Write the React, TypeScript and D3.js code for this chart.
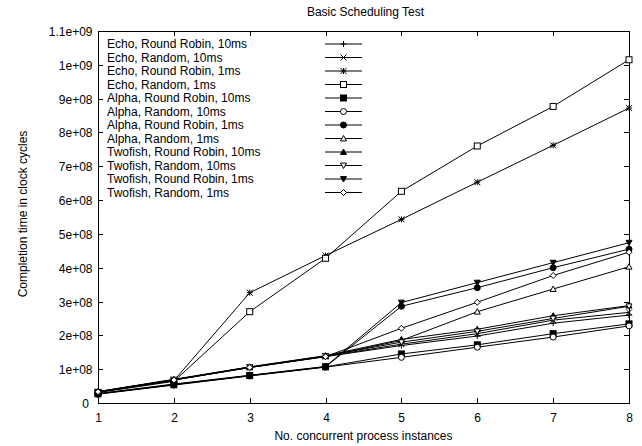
import React, { useEffect, useRef } from 'react';
import * as d3 from 'd3';

const instances = [1, 2, 3, 4, 5, 6, 7, 8];

const seriesNames = [
  'Echo, Round Robin, 10ms',
  'Echo, Random, 10ms',
  'Echo, Round Robin, 1ms',
  'Echo, Random, 1ms',
  'Alpha, Round Robin, 10ms',
  'Alpha, Random, 10ms',
  'Alpha, Round Robin, 1ms',
  'Alpha, Random, 1ms',
  'Twofish, Round Robin, 10ms',
  'Twofish, Random, 10ms',
  'Twofish, Round Robin, 1ms',
  'Twofish, Random, 1ms',
];

const echoRR10 = [3.2e7, 6.8e7, 1.05e8, 1.37e8, 1.70e8, 1.98e8, 2.36e8, 2.60e8];
const echoRand10 = [3.3e7, 6.9e7, 1.06e8, 1.38e8, 1.74e8, 2.05e8, 2.45e8, 2.68e8];
const echoRR1 = [3.2e7, 6.6e7, 3.26e8, 4.36e8, 5.43e8, 6.53e8, 7.62e8, 8.72e8];
const echoRand1 = [3.1e7, 6.4e7, 2.70e8, 4.28e8, 6.26e8, 7.60e8, 8.77e8, 1.015e9];
const alphaRR10 = [2.7e7, 5.4e7, 8.1e7, 1.07e8, 1.45e8, 1.72e8, 2.05e8, 2.34e8];
const alphaRand10 = [2.6e7, 5.3e7, 8.0e7, 1.06e8, 1.35e8, 1.65e8, 1.95e8, 2.28e8];
const alphaRR1 = [2.7e7, 5.5e7, 8.1e7, 1.07e8, 2.86e8, 3.41e8, 4.00e8, 4.55e8];
const alphaRand1 = [3.3e7, 6.8e7, 1.05e8, 1.38e8, 1.85e8, 2.70e8, 3.37e8, 4.03e8];
const twofishRR10 = [3.4e7, 7.0e7, 1.07e8, 1.40e8, 1.88e8, 2.18e8, 2.58e8, 2.88e8];
const twofishRand10 = [3.3e7, 6.9e7, 1.06e8, 1.39e8, 1.80e8, 2.12e8, 2.50e8, 2.86e8];
const twofishRR1 = [2.8e7, 5.6e7, 8.2e7, 1.08e8, 2.97e8, 3.56e8, 4.15e8, 4.74e8];
const twofishRand1 = [3.3e7, 6.8e7, 1.05e8, 1.37e8, 2.21e8, 2.98e8, 3.77e8, 4.46e8];

const seriesValues = [
  echoRR10, echoRand10, echoRR1, echoRand1,
  alphaRR10, alphaRand10, alphaRR1, alphaRand1,
  twofishRR10, twofishRand10, twofishRR1, twofishRand1,
];

const yTicks = [0, 1e8, 2e8, 3e8, 4e8, 5e8, 6e8, 7e8, 8e8, 9e8, 1e9, 1.1e9];

// gnuplot-like %g labels: 1e+08, 1.1e+09
const fmtY = (v: number) => {
  if (v === 0) return '0';
  const e = Math.floor(Math.log10(v) + 1e-9);
  const m = +(v / Math.pow(10, e)).toFixed(2);
  return `${m}e+${String(e).padStart(2, '0')}`;
};

// point types 1..12 in gnuplot order
const drawPoint = (g: any, type: number, cx: number, cy: number) => {
  const s = 3;
  const p = g.append('g').attr('transform', `translate(${cx},${cy})`)
    .attr('stroke', '#000').attr('stroke-width', 1);
  switch (type) {
    case 0:
      p.append('path').attr('d', `M${-s},0H${s}M0,${-s}V${s}`);
      break;
    case 1:
      p.append('path').attr('d', `M${-s},${-s}L${s},${s}M${-s},${s}L${s},${-s}`);
      break;
    case 2:
      p.append('path').attr('d', `M${-s},0H${s}M0,${-s}V${s}M${-s},${-s}L${s},${s}M${-s},${s}L${s},${-s}`);
      break;
    case 3:
      p.append('rect').attr('x', -s).attr('y', -s).attr('width', 2 * s).attr('height', 2 * s).attr('fill', '#fff');
      break;
    case 4:
      p.append('rect').attr('x', -s).attr('y', -s).attr('width', 2 * s).attr('height', 2 * s).attr('fill', '#000');
      break;
    case 5:
      p.append('circle').attr('r', s).attr('fill', '#fff');
      break;
    case 6:
      p.append('circle').attr('r', s).attr('fill', '#000');
      break;
    case 7:
      p.append('path').attr('d', `M0,${-s}L${s},${s * 0.8}H${-s}Z`).attr('fill', '#fff');
      break;
    case 8:
      p.append('path').attr('d', `M0,${-s}L${s},${s * 0.8}H${-s}Z`).attr('fill', '#000');
      break;
    case 9:
      p.append('path').attr('d', `M0,${s}L${s},${-s * 0.8}H${-s}Z`).attr('fill', '#fff');
      break;
    case 10:
      p.append('path').attr('d', `M0,${s}L${s},${-s * 0.8}H${-s}Z`).attr('fill', '#000');
      break;
    default:
      p.append('path').attr('d', `M0,${-s}L${s},0L0,${s}L${-s},0Z`).attr('fill', '#fff');
  }
};

const Chart = () => {
  const ref = useRef<SVGSVGElement>(null);

  useEffect(() => {
    if (!ref.current) return;
    const svg = d3.select(ref.current);
    svg.selectAll('*').remove();

    const width = 642;
    const height = 446;
    const margin = { top: 31, right: 13, bottom: 43, left: 98 };
    const w = width - margin.left - margin.right;
    const h = height - margin.top - margin.bottom;
    const fs = 12;

    const x = d3.scaleLinear().domain([1, 8]).range([0, w]);
    const y = d3.scaleLinear().domain([0, 1.1e9]).range([h, 0]);

    svg.attr('font-family', '"Liberation Sans", Arial, sans-serif');

    svg.append('text')
      .attr('x', margin.left + w / 2 + 2).attr('y', 15.5)
      .attr('text-anchor', 'middle').attr('font-size', fs)
      .text('Basic Scheduling Test');

    const g = svg.append('g').attr('transform', `translate(${margin.left},${margin.top})`);

    const tickLen = 5;
    // y ticks, mirrored on the right
    yTicks.forEach(t => {
      const yy = Math.round(y(t)) + 0.5;
      g.append('line').attr('x1', 0).attr('x2', tickLen).attr('y1', yy).attr('y2', yy).attr('stroke', '#000');
      g.append('line').attr('x1', w - tickLen).attr('x2', w).attr('y1', yy).attr('y2', yy).attr('stroke', '#000');
      g.append('text').attr('x', t === 0 ? -9 : -5.5).attr('y', yy + 4.3)
        .attr('text-anchor', 'end').attr('font-size', fs).text(fmtY(t));
    });
    // x ticks, mirrored on top
    instances.forEach(t => {
      const xx = Math.round(x(t)) + 0.5;
      g.append('line').attr('x1', xx).attr('x2', xx).attr('y1', h).attr('y2', h - tickLen).attr('stroke', '#000');
      g.append('line').attr('x1', xx).attr('x2', xx).attr('y1', 0).attr('y2', tickLen).attr('stroke', '#000');
      g.append('text').attr('x', xx).attr('y', h + 19)
        .attr('text-anchor', 'middle').attr('font-size', fs).text(String(t));
    });

    g.append('rect').attr('x', 0.5).attr('y', 0.5).attr('width', w).attr('height', h)
      .attr('fill', 'none').attr('stroke', '#000');

    svg.append('text')
      .attr('x', margin.left + w / 2).attr('y', 440)
      .attr('text-anchor', 'middle').attr('font-size', fs)
      .text('No. concurrent process instances');

    svg.append('text')
      .attr('transform', `translate(27,${margin.top + h / 2 - 3}) rotate(-90)`)
      .attr('text-anchor', 'middle').attr('font-size', fs)
      .text('Completion time in clock cycles');

    const line = d3.line<number>()
      .x((d, i) => x(instances[i]))
      .y(d => y(d));

    seriesValues.forEach(vals => {
      g.append('path').datum(vals)
        .attr('fill', 'none').attr('stroke', '#000').attr('stroke-width', 1)
        .attr('d', line);
    });
    seriesValues.forEach((vals, si) => {
      vals.forEach((v, i) => drawPoint(g, si, x(instances[i]), y(v)));
    });

    // legend
    const legend = g.append('g');
    seriesNames.forEach((name, i) => {
      const ly = 13 + i * 13.5;
      legend.append('text').attr('x', 9).attr('y', ly + 4.3)
        .attr('font-size', fs).text(name);
      legend.append('line').attr('x1', 227).attr('x2', 264).attr('y1', ly).attr('y2', ly)
        .attr('stroke', '#000');
      drawPoint(legend, i, 245.5, ly);
    });
  }, []);

  return <svg ref={ref} width={642} height={446} style={{ position: 'absolute', left: 0, top: 0, background: '#fff' }} />;
};

export default function App() {
  return <Chart />;
}
